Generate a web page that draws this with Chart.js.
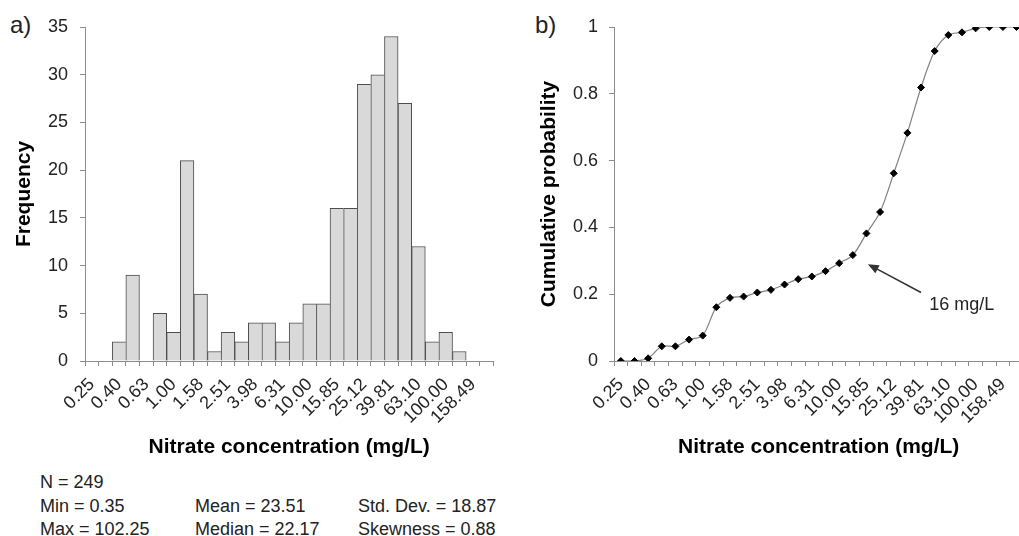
<!DOCTYPE html>
<html lang="en">
<head>
    <meta charset="UTF-8">
    <title>Nitrate concentration</title>
    <script src="https://cdn.jsdelivr.net/npm/chart.js"></script>
    <style>
        body {
            margin: 0;
            width: 1019px;
            height: 536px;
            overflow: hidden;
            position: relative;
            background: #fff;
            font-family: 'Liberation Sans', Arial, sans-serif;
            color: #222;
        }
        canvas { position: absolute; top: 0; }
        #histChart { left: 0; }
        #cumChart { left: 530px; }
        .panel { position: absolute; font-size: 24px; top: 11px; }
        .stat { position: absolute; font-size: 18px; line-height: 20px; white-space: nowrap; }
    </style>
</head>
<body>
    <div class="panel" style="left:10px">a)</div>
    <div class="panel" style="left:535px">b)</div>

    <canvas id="histChart" width="510" height="470"></canvas>
    <canvas id="cumChart" width="510" height="470"></canvas>

    <div class="stat" style="left:40px; top:472px">N = 249</div>
    <div class="stat" style="left:40px; top:496px">Min = 0.35</div>
    <div class="stat" style="left:40px; top:519px">Max = 102.25</div>
    <div class="stat" style="left:195px; top:496px">Mean = 23.51</div>
    <div class="stat" style="left:195px; top:519px">Median = 22.17</div>
    <div class="stat" style="left:358px; top:496px">Std. Dev. = 18.87</div>
    <div class="stat" style="left:358px; top:519px">Skewness = 0.88</div>

    <script>
        // bins (mg/L, log steps of 0.1)
        const binLabels = ['0.25', '0.32', '0.40', '0.50', '0.63', '0.79', '1.00', '1.26', '1.58', '2.00',
                           '2.51', '3.16', '3.98', '5.01', '6.31', '7.94', '10.00', '12.59', '15.85', '19.95',
                           '25.12', '31.62', '39.81', '50.12', '63.10', '79.43', '100.00', '125.89', '158.49', '199.53'];

        // histogram counts
        const frequency = [0, 0, 2, 9, 0, 5, 3, 21, 7, 1, 3, 2, 4, 4, 2, 4, 6, 6, 16, 16,
                           29, 30, 34, 27, 12, 2, 3, 1, 0, 0];

        // cumulative probability
        const cumulative = [0, 0, 0.008, 0.044, 0.044, 0.064, 0.076, 0.161, 0.189, 0.193,
                            0.205, 0.213, 0.229, 0.245, 0.253, 0.269, 0.293, 0.317, 0.382, 0.446,
                            0.562, 0.683, 0.819, 0.928, 0.976, 0.984, 0.996, 1, 1, 1];

        const freqTicks = { min: 0, max: 35, step: 5 };
        const probTicks = { min: 0, max: 1, step: 0.2 };

        // annotation in panel b (x = bin index, y = probability)
        const noteText = '16 mg/L';
        const arrowTail = [22.0, 0.205];
        const arrowHead = [18.1, 0.29];
        const notePos = [22.6, 0.168];

        Chart.defaults.font.family = "'Liberation Sans', Arial, sans-serif";
        Chart.defaults.color = '#222';

        const axisGrey = '#8c8c8c';
        const titleFont = { size: 21, weight: 'bold' };
        const tickFont = { size: 18 };

        function xAxis() {
            return {
                type: 'category',
                offset: true,
                grid: { offset: true, drawOnChartArea: false, drawTicks: true, tickLength: 5, color: axisGrey },
                border: { color: axisGrey },
                ticks: {
                    autoSkip: false,
                    maxRotation: 45,
                    minRotation: 45,
                    padding: 8,
                    font: tickFont,
                    callback: function(value, index) {
                        return index % 2 === 0 ? this.getLabelForValue(value) : '';
                    }
                },
                title: {
                    display: true,
                    text: 'Nitrate concentration (mg/L)',
                    font: titleFont,
                    color: '#000',
                    padding: { top: 0, bottom: 10 }
                },
                afterFit: function(scale) { scale.height = 109; }
            };
        }

        function yAxis(range, label, width, titlePad, tickPad) {
            return {
                min: range.min,
                max: range.max,
                grid: { drawOnChartArea: false, drawTicks: true, tickLength: 5, color: axisGrey },
                border: { color: axisGrey },
                ticks: {
                    stepSize: range.step,
                    font: tickFont,
                    padding: tickPad,
                    callback: value => String(+value.toFixed(1))
                },
                title: {
                    display: true,
                    text: label,
                    font: titleFont,
                    color: '#000',
                    padding: { top: titlePad, bottom: 0 }
                },
                afterFit: function(scale) { scale.width = width; }
            };
        }

        // Histogram
        new Chart(document.getElementById('histChart'), {
            type: 'bar',
            data: {
                labels: binLabels,
                datasets: [{
                    data: frequency,
                    backgroundColor: '#d9d9d9',
                    borderColor: '#4d4d4d',
                    borderSkipped: 'start',
                    borderWidth: function(ctx) {
                        const i = ctx.dataIndex;
                        if (i === undefined) return 1;
                        const next = i + 1 < frequency.length ? frequency[i + 1] : 0;
                        return { top: 1, left: 1, bottom: 0, right: next < frequency[i] ? 1 : 0 };
                    },
                    barPercentage: 1,
                    categoryPercentage: 1
                }]
            },
            options: {
                responsive: false,
                animation: false,
                layout: { padding: { left: 0, top: 27, right: 10, bottom: 0 } },
                plugins: { legend: { display: false }, tooltip: { enabled: false } },
                scales: {
                    x: xAxis(),
                    y: yAxis(freqTicks, 'Frequency', 85, 12, 12)
                }
            }
        });

        // arrow + label for panel b
        const notePlugin = {
            id: 'note',
            afterDatasetsDraw(chart) {
                const { ctx, scales: { x, y } } = chart;
                const px = v => x.getPixelForValue(v);
                const tx = px(arrowTail[0]), ty = y.getPixelForValue(arrowTail[1]);
                const hx = px(arrowHead[0]), hy = y.getPixelForValue(arrowHead[1]);
                const ang = Math.atan2(hy - ty, hx - tx);
                ctx.save();
                ctx.strokeStyle = '#333';
                ctx.fillStyle = '#333';
                ctx.lineWidth = 1.5;
                ctx.beginPath();
                ctx.moveTo(tx, ty);
                ctx.lineTo(hx - 8 * Math.cos(ang), hy - 8 * Math.sin(ang));
                ctx.stroke();
                ctx.beginPath();
                ctx.moveTo(hx, hy);
                ctx.lineTo(hx - 11 * Math.cos(ang) + 4.5 * Math.sin(ang), hy - 11 * Math.sin(ang) - 4.5 * Math.cos(ang));
                ctx.lineTo(hx - 11 * Math.cos(ang) - 4.5 * Math.sin(ang), hy - 11 * Math.sin(ang) + 4.5 * Math.cos(ang));
                ctx.closePath();
                ctx.fill();
                ctx.font = "18px 'Liberation Sans', Arial, sans-serif";
                ctx.fillStyle = '#222';
                ctx.textAlign = 'left';
                ctx.textBaseline = 'middle';
                ctx.fillText(noteText, px(notePos[0]), y.getPixelForValue(notePos[1]));
                ctx.restore();
            }
        };

        // Cumulative probability
        new Chart(document.getElementById('cumChart'), {
            type: 'line',
            data: {
                labels: binLabels,
                datasets: [{
                    data: cumulative,
                    borderColor: '#808080',
                    borderWidth: 1.2,
                    tension: 0.3,
                    pointStyle: 'rectRot',
                    pointRadius: 3.5,
                    pointBorderWidth: 1,
                    pointBackgroundColor: '#000',
                    pointBorderColor: '#000'
                }]
            },
            options: {
                responsive: false,
                animation: false,
                layout: { padding: { left: 0, top: 27, right: 10, bottom: 0 } },
                plugins: { legend: { display: false }, tooltip: { enabled: false } },
                scales: {
                    x: xAxis(),
                    y: yAxis(probTicks, 'Cumulative probability', 84, 7, 11)
                }
            },
            plugins: [notePlugin]
        });
    </script>
</body>
</html>
